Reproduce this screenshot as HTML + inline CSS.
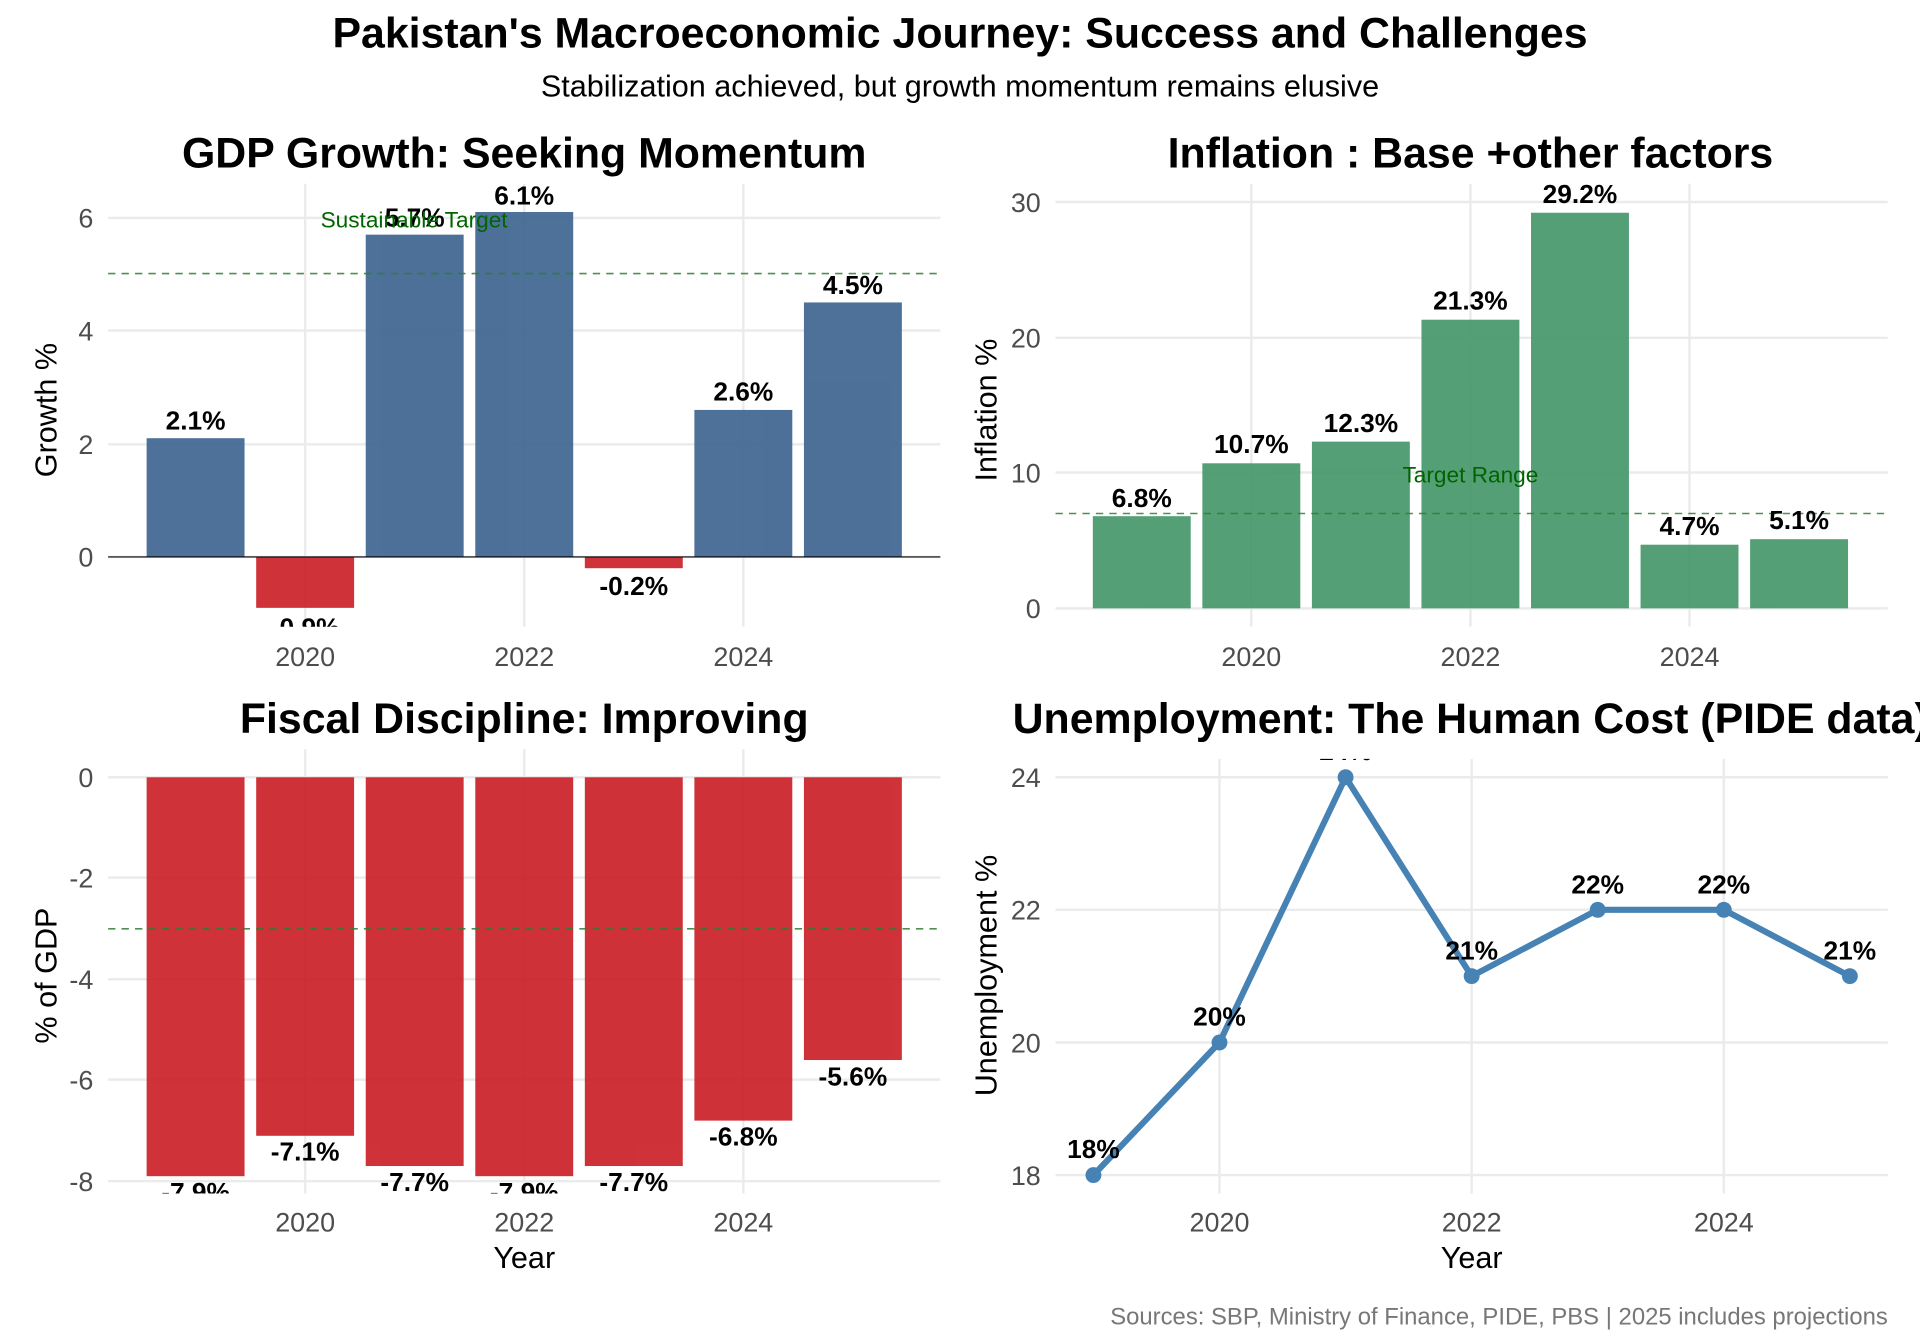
<!DOCTYPE html>
<html><head><meta charset="utf-8"><style>
html,body{margin:0;padding:0;background:#fff;}
svg{display:block;}
text{font-family:"Liberation Sans",Arial,sans-serif;}
.t{font-size:22px;fill:#4d4d4d;}
.at{font-size:25px;fill:#000;}
.bl{font-size:21.5px;font-weight:bold;fill:#000;text-anchor:middle;}
.pt{font-size:35px;font-weight:bold;fill:#000;text-anchor:middle;}
.g{stroke:#ebebeb;stroke-width:2;}
.d{stroke:#2e7d32;stroke-width:1.3;stroke-dasharray:6,5;opacity:.85;}
</style></head><body>
<svg width="1920" height="1344" viewBox="0 0 1568 1098" xmlns="http://www.w3.org/2000/svg">
<defs>
<clipPath id="c1"><rect x="88" y="150" width="680" height="362"/></clipPath>
<clipPath id="c2"><rect x="862" y="150" width="680" height="362"/></clipPath>
<clipPath id="c3"><rect x="88" y="612" width="680" height="363"/></clipPath>
<clipPath id="c4"><rect x="862" y="620" width="706" height="360"/></clipPath>
</defs>
<text x="784" y="39" class="pt">Pakistan's Macroeconomic Journey: Success and Challenges</text>
<text x="784" y="79" text-anchor="middle" style="font-size:25px">Stabilization achieved, but growth momentum remains elusive</text>

<!-- Panel 1 -->
<text x="428" y="137" class="pt">GDP Growth: Seeking Momentum</text>
<g clip-path="url(#c1)">
<line class="g" x1="88" x2="768" y1="178" y2="178"/><line class="g" x1="88" x2="768" y1="270" y2="270"/><line class="g" x1="88" x2="768" y1="363" y2="363"/><line class="g" x1="88" x2="768" y1="455" y2="455"/>
<line class="g" x1="249" x2="249" y1="150" y2="512"/><line class="g" x1="428" x2="428" y1="150" y2="512"/><line class="g" x1="607" x2="607" y1="150" y2="512"/>
<g fill="#3f6690" opacity=".93">
<rect x="119.5" y="358" width="80" height="97"/>
<rect x="298.5" y="191.7" width="80" height="263.3"/>
<rect x="388" y="173.2" width="80" height="281.8"/>
<rect x="567" y="334.9" width="80" height="120.1"/>
<rect x="656.5" y="247.1" width="80" height="207.9"/>
</g>
<g fill="#c8161d" opacity=".88">
<rect x="209" y="455" width="80" height="41.6"/>
<rect x="477.5" y="455" width="80" height="9.2"/>
</g>
<line x1="88" x2="768" y1="455" y2="455" stroke="#000" stroke-width="1"/>
<line class="d" x1="88" x2="768" y1="223.5" y2="223.5"/>
<text class="bl" x="159.5" y="351">2.1%</text>
<text class="bl" x="249" y="520">-0.9%</text>
<text class="bl" x="338.5" y="185">5.7%</text>
<text class="bl" x="428" y="167">6.1%</text>
<text class="bl" x="517.5" y="486">-0.2%</text>
<text class="bl" x="607" y="327">2.6%</text>
<text class="bl" x="696.5" y="240">4.5%</text>
<text x="338" y="186" text-anchor="middle" style="font-size:18.5px;fill:#006400">Sustainable Target</text>
</g>
<g class="t" text-anchor="end"><text x="76" y="186">6</text><text x="76" y="278">4</text><text x="76" y="371">2</text><text x="76" y="463">0</text></g>
<g class="t" text-anchor="middle"><text x="249" y="544">2020</text><text x="428" y="544">2022</text><text x="607" y="544">2024</text></g>
<text class="at" transform="translate(46,335) rotate(-90)" text-anchor="middle">Growth %</text>

<!-- Panel 2 -->
<text x="1201" y="137" class="pt">Inflation : Base +other factors</text>
<g clip-path="url(#c2)">
<line class="g" x1="862" x2="1542" y1="165" y2="165"/><line class="g" x1="862" x2="1542" y1="276" y2="276"/><line class="g" x1="862" x2="1542" y1="386" y2="386"/><line class="g" x1="862" x2="1542" y1="497" y2="497"/>
<line class="g" x1="1022" x2="1022" y1="150" y2="512"/><line class="g" x1="1201" x2="1201" y1="150" y2="512"/><line class="g" x1="1380" x2="1380" y1="150" y2="512"/>
<g fill="#46976a" opacity=".92">
<rect x="892.5" y="421.7" width="80" height="75.3"/>
<rect x="982" y="378.5" width="80" height="118.5"/>
<rect x="1071.5" y="360.8" width="80" height="136.2"/>
<rect x="1161" y="261.2" width="80" height="235.8"/>
<rect x="1250.5" y="173.8" width="80" height="323.2"/>
<rect x="1340" y="445" width="80" height="52"/>
<rect x="1429.5" y="440.5" width="80" height="56.5"/>
</g>
<line class="d" x1="862" x2="1542" y1="419.5" y2="419.5"/>
<text class="bl" x="932.5" y="414">6.8%</text>
<text class="bl" x="1022" y="370">10.7%</text>
<text class="bl" x="1111.5" y="353">12.3%</text>
<text class="bl" x="1201" y="253">21.3%</text>
<text class="bl" x="1290.5" y="166">29.2%</text>
<text class="bl" x="1380" y="437">4.7%</text>
<text class="bl" x="1469.5" y="432">5.1%</text>
<text x="1201" y="394" text-anchor="middle" style="font-size:18.5px;fill:#006400">Target Range</text>
</g>
<g class="t" text-anchor="end"><text x="850" y="173">30</text><text x="850" y="284">20</text><text x="850" y="394">10</text><text x="850" y="505">0</text></g>
<g class="t" text-anchor="middle"><text x="1022" y="544">2020</text><text x="1201" y="544">2022</text><text x="1380" y="544">2024</text></g>
<text class="at" transform="translate(814,335) rotate(-90)" text-anchor="middle">Inflation %</text>

<!-- Panel 3 -->
<text x="428" y="599" class="pt">Fiscal Discipline: Improving</text>
<g clip-path="url(#c3)">
<line class="g" x1="88" x2="768" y1="635" y2="635"/><line class="g" x1="88" x2="768" y1="717" y2="717"/><line class="g" x1="88" x2="768" y1="800" y2="800"/><line class="g" x1="88" x2="768" y1="882" y2="882"/><line class="g" x1="88" x2="768" y1="965" y2="965"/>
<line class="g" x1="249" x2="249" y1="612" y2="975"/><line class="g" x1="428" x2="428" y1="612" y2="975"/><line class="g" x1="607" x2="607" y1="612" y2="975"/>
<g fill="#c8161d" opacity=".88">
<rect x="119.5" y="635" width="80" height="325.9"/>
<rect x="209" y="635" width="80" height="292.9"/>
<rect x="298.5" y="635" width="80" height="317.6"/>
<rect x="388" y="635" width="80" height="325.9"/>
<rect x="477.5" y="635" width="80" height="317.6"/>
<rect x="567" y="635" width="80" height="280.5"/>
<rect x="656.5" y="635" width="80" height="231"/>
</g>
<line class="d" x1="88" x2="768" y1="758.8" y2="758.8"/>
<text class="bl" x="159.5" y="981">-7.9%</text>
<text class="bl" x="249" y="948">-7.1%</text>
<text class="bl" x="338.5" y="973">-7.7%</text>
<text class="bl" x="428" y="981">-7.9%</text>
<text class="bl" x="517.5" y="973">-7.7%</text>
<text class="bl" x="607" y="936">-6.8%</text>
<text class="bl" x="696.5" y="887">-5.6%</text>
</g>
<g class="t" text-anchor="end"><text x="76" y="643">0</text><text x="76" y="725">-2</text><text x="76" y="808">-4</text><text x="76" y="890">-6</text><text x="76" y="973">-8</text></g>
<g class="t" text-anchor="middle"><text x="249" y="1006">2020</text><text x="428" y="1006">2022</text><text x="607" y="1006">2024</text></g>
<text class="at" x="428" y="1036" text-anchor="middle">Year</text>
<text class="at" transform="translate(46,797) rotate(-90)" text-anchor="middle">% of GDP</text>

<!-- Panel 4 -->
<text x="827" y="599" style="font-size:35px;font-weight:bold">Unemployment: The Human Cost (PIDE data)</text>
<g clip-path="url(#c4)">
<line class="g" x1="862" x2="1542" y1="635" y2="635"/><line class="g" x1="862" x2="1542" y1="743.3" y2="743.3"/><line class="g" x1="862" x2="1542" y1="851.7" y2="851.7"/><line class="g" x1="862" x2="1542" y1="960" y2="960"/>
<line class="g" x1="996" x2="996" y1="620" y2="975"/><line class="g" x1="1202" x2="1202" y1="620" y2="975"/><line class="g" x1="1408" x2="1408" y1="620" y2="975"/>
<polyline points="893,960 996,851.7 1099,635 1202,797.5 1305,743.3 1408,743.3 1511,797.5" fill="none" stroke="#4682b4" stroke-width="5" stroke-linejoin="round"/>
<g fill="#4682b4"><circle cx="893" cy="960" r="6.5"/><circle cx="996" cy="851.7" r="6.5"/><circle cx="1099" cy="635" r="6.5"/><circle cx="1202" cy="797.5" r="6.5"/><circle cx="1305" cy="743.3" r="6.5"/><circle cx="1408" cy="743.3" r="6.5"/><circle cx="1511" cy="797.5" r="6.5"/></g>
<text class="bl" x="893" y="946">18%</text>
<text class="bl" x="996" y="838">20%</text>
<text class="bl" x="1099" y="621">24%</text>
<text class="bl" x="1202" y="784">21%</text>
<text class="bl" x="1305" y="730">22%</text>
<text class="bl" x="1408" y="730">22%</text>
<text class="bl" x="1511" y="784">21%</text>
</g>
<g class="t" text-anchor="end"><text x="850" y="643">24</text><text x="850" y="751">22</text><text x="850" y="860">20</text><text x="850" y="968">18</text></g>
<g class="t" text-anchor="middle"><text x="996" y="1006">2020</text><text x="1202" y="1006">2022</text><text x="1408" y="1006">2024</text></g>
<text class="at" x="1202" y="1036" text-anchor="middle">Year</text>
<text class="at" transform="translate(814,797) rotate(-90)" text-anchor="middle">Unemployment %</text>

<text x="1542" y="1082" text-anchor="end" style="font-size:19.5px;fill:#777">Sources: SBP, Ministry of Finance, PIDE, PBS | 2025 includes projections</text>
</svg>
</body></html>
